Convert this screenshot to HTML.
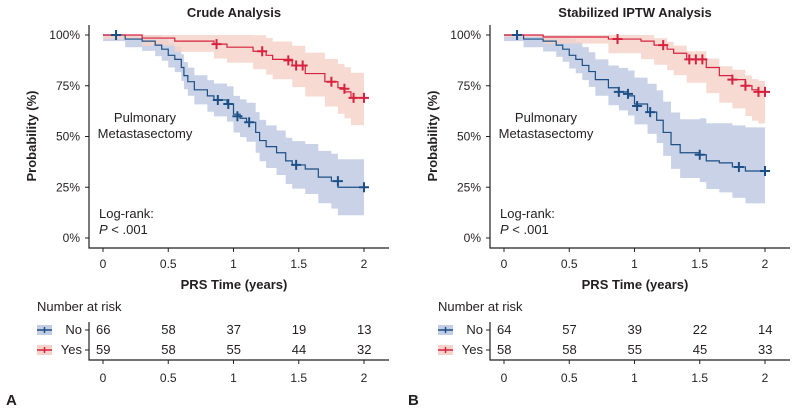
<!DOCTYPE html>
<html><head><meta charset="utf-8"><style>
body{margin:0;background:#fff;width:800px;height:410px;overflow:hidden}
svg text{font-family:"Liberation Sans",Arial,sans-serif;fill:#231f20}
</style></head><body>
<svg id="s" width="800" height="410" xmlns="http://www.w3.org/2000/svg"></svg>
<script>
const S=document.getElementById('s');let h='';
const BL='#1c4f85',RD='#d6213f',BLF='#c3cde3',RDF='#f6d3ca';
function panel(ox,title,no,nol,noh,nom,yes,yl,yh,ym,risk){
 const X=t=>ox+103+t*130.5, Y=p=>238-p*203;
 h+=`<text x="${ox+234}" y="17" font-size="13" font-weight="bold" text-anchor="middle">${title}</text>`;
 function step(pts){let d=`M${X(0)},${Y(pts[0][1])}`;for(let i=1;i<pts.length;i++){d+=`H${X(pts[i][0])}V${Y(pts[i][1])}`;}d+=`H${X(2)}`;return d;}
 function band(lo,hi){let up=step(hi);
  let d=up+`V${Y(lo[lo.length-1][1])}`;for(let i=lo.length-1;i>0;i--){d+=`H${X(lo[i][0])}V${Y(lo[i-1][1])}`;}d+=`H${X(0)}Z`;return d;}
 h+=`<path d="${band(nol,noh)}" fill="${BLF}" opacity="0.9"/>`;
 h+=`<path d="${band(yl,yh)}" fill="${RDF}" opacity="0.85"/>`;
 h+=`<path d="${step(no)}" fill="none" stroke="${BL}" stroke-width="1.2"/>`;
 h+=`<path d="${step(yes)}" fill="none" stroke="${RD}" stroke-width="1.2"/>`;
 const mk=(m,c)=>m.forEach(([t,p])=>{h+=`<path d="M${X(t)-5},${Y(p)}h10M${X(t)},${Y(p)-5}v10" stroke="${c}" stroke-width="2"/>`});
 mk(nom,BL);mk(ym,RD);
 h+=`<path d="M${ox+89},25V248H${ox+389}" fill="none" stroke="#231f20" stroke-width="1.2"/>`;
 [0,.25,.5,.75,1].forEach(p=>{h+=`<path d="M${ox+85},${Y(p)}h4" stroke="#231f20"/><text x="${ox+80}" y="${Y(p)+4}" font-size="12" text-anchor="end">${p*100}%</text>`});
 [0,.5,1,1.5,2].forEach(t=>{h+=`<path d="M${X(t)},248v4" stroke="#231f20"/><text x="${X(t)}" y="268" font-size="12" text-anchor="middle">${t}</text>`});
 h+=`<text x="${ox+234}" y="289" font-size="13" font-weight="bold" text-anchor="middle">PRS Time (years)</text>`;
 h+=`<text transform="translate(${ox+36},136) rotate(-90)" font-size="13" font-weight="bold" text-anchor="middle">Probability (%)</text>`;
 h+=`<text x="${ox+145}" y="122" font-size="13" text-anchor="middle">Pulmonary</text><text x="${ox+145}" y="138" font-size="13" text-anchor="middle">Metastasectomy</text>`;
 h+=`<text x="${ox+99}" y="218" font-size="13">Log-rank:</text><text x="${ox+99}" y="234" font-size="13"><tspan font-style="italic">P</tspan> &lt; .001</text>`;
 h+=`<text x="${ox+37}" y="311" font-size="13">Number at risk</text>`;
 h+=`<path d="M${ox+89},322V360H${ox+389}" fill="none" stroke="#231f20" stroke-width="1.2"/>`;
 [[330,BL,BLF,'No',risk[0]],[350,RD,RDF,'Yes',risk[1]]].forEach(([y,c,f,l,r])=>{
  h+=`<rect x="${ox+37}" y="${y-5}" width="15" height="10" fill="${f}"/><path d="M${ox+37},${y}h15M${ox+44.5},${y-3}v6" stroke="${c}" stroke-width="1.5"/>`;
  h+=`<text x="${ox+82}" y="${y+4}" font-size="13" text-anchor="end">${l}</text><path d="M${ox+85},${y}h4" stroke="#231f20"/>`;
  r.forEach((v,i)=>{h+=`<text x="${X(i*.5)-7}" y="${y+4}" font-size="13">${v}</text>`});
 });
 [0,.5,1,1.5,2].forEach(t=>{h+=`<path d="M${X(t)},360v4" stroke="#231f20"/><text x="${X(t)}" y="382" font-size="12" text-anchor="middle">${t}</text>`});
}
const sh=(a,d)=>a.map(([t,p])=>[t,Math.max(0,Math.min(1,p+d(t)))]);
const noA=[[0,1],[.17,.98],[.3,.97],[.4,.95],[.45,.93],[.5,.9],[.55,.88],[.6,.84],[.62,.8],[.65,.77],[.7,.73],[.8,.7],[.85,.68],[.95,.66],[1,.61],[1.05,.59],[1.1,.57],[1.17,.52],[1.2,.48],[1.25,.45],[1.33,.42],[1.4,.38],[1.45,.36],[1.55,.34],[1.65,.3],[1.75,.28],[1.8,.25]];
const yA=[[0,1],[.3,.985],[.55,.97],[.85,.955],[.95,.94],[1.15,.92],[1.25,.9],[1.3,.88],[1.45,.85],[1.55,.81],[1.7,.77],[1.8,.74],[1.85,.72],[1.9,.69]];
panel(0,'Crude Analysis',noA,sh(noA,t=>-0.03-0.06*t),sh(noA,t=>0.03+0.06*t),[[.1,1],[.88,.68],[.96,.66],[1.03,.6],[1.12,.57],[1.48,.36],[1.8,.28],[2,.25]],
 yA,sh(yA,t=>-0.02-0.06*t),sh(yA,t=>0.01+0.06*t),[[.87,.955],[1.22,.92],[1.42,.875],[1.48,.85],[1.53,.85],[1.75,.77],[1.85,.735],[1.92,.69],[2,.69]],[[66,58,37,19,13],[59,58,55,44,32]]);
const noB=[[0,1],[.15,.98],[.3,.97],[.4,.95],[.45,.93],[.5,.9],[.55,.88],[.6,.85],[.65,.82],[.7,.78],[.8,.74],[.88,.72],[.95,.7],[1,.66],[1.1,.62],[1.17,.58],[1.22,.52],[1.28,.46],[1.35,.42],[1.5,.41],[1.55,.38],[1.65,.37],[1.75,.35],[1.85,.33]];
const yB=[[0,1],[.3,.99],[.8,.98],[1.05,.97],[1.15,.95],[1.25,.93],[1.3,.91],[1.4,.88],[1.55,.84],[1.65,.8],[1.75,.78],[1.85,.75],[1.9,.73],[1.95,.72]];
panel(401,'Stabilized IPTW Analysis',noB,sh(noB,t=>-0.03-0.07*t),sh(noB,t=>0.03+0.1*t),[[.1,1],[.88,.72],[.95,.71],[1.02,.65],[1.12,.62],[1.5,.41],[1.8,.35],[2,.33]],
 yB,sh(yB,t=>-0.01-0.075*t),sh(yB,t=>0.005+0.025*t),[[.87,.98],[1.22,.95],[1.42,.88],[1.47,.88],[1.52,.88],[1.75,.78],[1.85,.75],[1.95,.72],[2,.72]],[[64,57,39,22,14],[58,58,55,45,33]]);
h+=`<text x="6" y="405" font-size="15" font-weight="bold">A</text><text x="408" y="405" font-size="15" font-weight="bold">B</text>`;
S.innerHTML=h;
</script>
</body></html>
